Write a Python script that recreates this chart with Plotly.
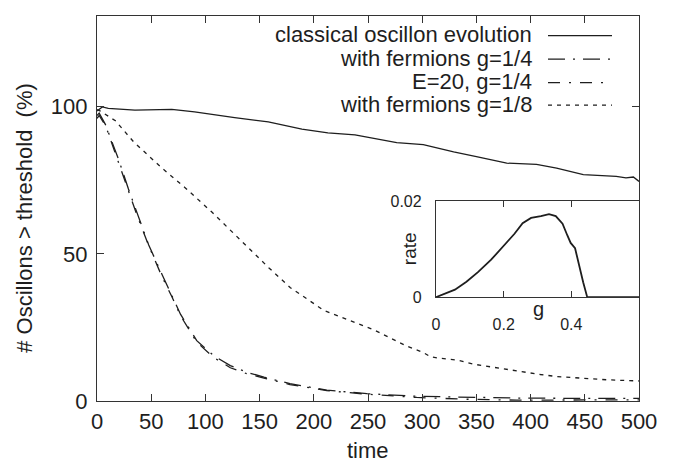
import plotly.graph_objects as go

# ---------------- data ----------------
legend_names = ["classical oscillon evolution", "with fermions g=1/4",
                "E=20, g=1/4", "with fermions g=1/8"]

t_classical = [0, 4.9, 10.4, 35, 69, 90, 127, 158, 189, 213, 238, 256.5, 276.5,
               301, 329, 350, 378, 405.5, 424, 448.6, 479, 488, 494.8, 500]
v_classical = [98.5, 99.9, 99.4, 98.8, 99.1, 98.2, 96.3, 94.8, 92.4, 91.1, 90.4, 89.1, 87.8,
               87.1, 84.6, 83.0, 80.8, 80.4, 79.1, 76.9, 76.3, 75.8, 76.1, 74.6]

t_g4 = [0, 2, 7.7, 20, 29, 37, 47.7, 60, 69, 77, 92, 108, 123, 138, 154, 169, 178,
        212, 249, 295, 341, 387, 440, 500]
v_g4 = [97.0, 97.8, 94.0, 82.0, 72.0, 63.6, 53.0, 43.0, 36.0, 29.5, 20.5, 15.3, 12.0, 9.8,
        8.1, 6.6, 5.9, 3.7, 2.5, 1.6, 1.2, 1.0, 0.9, 0.9]

t_e20 = [0, 2, 8, 20, 29, 37, 48, 60, 69, 77, 92, 108, 123, 138, 154, 169, 178,
         212, 249, 295, 341, 387, 440, 500]
v_e20 = [96.0, 97.0, 93.5, 81.0, 71.5, 63.0, 52.5, 42.2, 35.5, 29.0, 20.0, 14.7, 11.3, 9.3,
         7.8, 6.4, 5.6, 3.5, 2.3, 1.2, 0.6, 0.3, 0.3, 0.4]

t_g8 = [0, 3.1, 17, 33.9, 60, 81.5, 106.2, 133.9, 158.4, 178.4, 193.8, 209.2, 224.5,
        239.9, 255.3, 270.7, 286, 301.4, 307.6, 316.8, 332.2, 347.5, 362.9, 378.3,
        393.6, 409, 424.4, 439.8, 455.2, 470.6, 485.9, 500]
v_g8 = [99.0, 98.5, 95.2, 88.0, 79.1, 72.4, 64.1, 54.1, 45.3, 38.5, 34.7, 30.8, 28.6,
        26.4, 24.2, 21.4, 18.6, 16.4, 15.0, 14.5, 13.9, 12.5, 11.6, 10.8,
        9.8, 9.0, 8.3, 7.9, 7.4, 7.2, 7.0, 6.8]

g_inset = [0, 0.026, 0.056, 0.09, 0.124, 0.163, 0.202, 0.232, 0.256, 0.281, 0.31,
           0.334, 0.354, 0.374, 0.388, 0.398, 0.411, 0.422, 0.435, 0.447, 0.5, 0.55, 0.6]
rate_inset = [0, 0.00068, 0.00156, 0.0032, 0.0052, 0.0078, 0.0108, 0.0132, 0.0154,
              0.0165, 0.0169, 0.0173, 0.0169, 0.0153, 0.0129, 0.0113, 0.0102, 0.0068,
              0.0031, 0, 0, 0, 0]

x_ticks = [0, 50, 100, 150, 200, 250, 300, 350, 400, 450, 500]
y_ticks = [0, 50, 100]
inset_x_ticks = [0, 0.2, 0.4]
inset_x_text = ["0", "0.2", "0.4"]
inset_y_ticks = [0, 0.02]
inset_y_text = ["0", "0.02"]

# ---------------- styling ----------------
FONT = "Liberation Sans, Arial, Helvetica, sans-serif"
INK = "#1e1e1e"
dashes = [None, "17px,8px,2px,8px", "12px,9px,2px,9px", "4px,5px"]

fig = go.Figure()
series = [(t_classical, v_classical), (t_g4, v_g4), (t_e20, v_e20), (t_g8, v_g8)]
for (tx, vy), name, d in zip(series, legend_names, dashes):
    line = dict(color=INK, width=1.3)
    if d:
        line["dash"] = d
    fig.add_trace(go.Scatter(x=tx, y=vy, mode="lines", name=name, line=line,
                             showlegend=False, xaxis="x", yaxis="y"))

fig.add_trace(go.Scatter(x=g_inset, y=rate_inset, mode="lines", name="rate",
                         line=dict(color=INK, width=1.8), showlegend=False,
                         xaxis="x2", yaxis="y2"))

W, H = 683, 466
ml, mr, mt, mb = 97, 44, 8, 65
pw, ph = W - ml - mr, H - mt - mb


def px_to_paper_x(px):
    return (px - ml) / pw


def px_to_paper_y(py):
    return (H - mb - py) / ph


axis_common = dict(showline=True, linecolor="#333", linewidth=1.3, mirror="allticks",
                   ticks="inside", tickcolor="#333", tickwidth=1, showgrid=False,
                   zeroline=False)

fig.update_layout(
    width=W, height=H,
    margin=dict(l=ml, r=mr, t=mt, b=mb, pad=0),
    paper_bgcolor="white", plot_bgcolor="white",
    font=dict(family=FONT, color=INK),
    xaxis=dict(domain=[0, 1], range=[0, 500], tickvals=x_ticks, ticklen=7,
               tickfont=dict(size=22), anchor="y", ticklabelstandoff=0, **axis_common),
    yaxis=dict(domain=[0, 1], range=[0, 130.8], tickvals=y_ticks, ticklen=7,
               tickfont=dict(size=22), anchor="x", ticklabelstandoff=4, **axis_common),
    xaxis2=dict(domain=[px_to_paper_x(436), 1.0], range=[0, 0.6], tickvals=inset_x_ticks,
                ticktext=inset_x_text, ticklen=6, tickfont=dict(size=16), anchor="y2",
                ticklabelstandoff=12, **axis_common),
    yaxis2=dict(domain=[px_to_paper_y(295), px_to_paper_y(197)], range=[0, 0.02],
                tickvals=inset_y_ticks, ticktext=inset_y_text, ticklen=6,
                tickfont=dict(size=16), anchor="x2", ticklabelstandoff=10, **axis_common),
)

annotations = [
    dict(text="time", x=0.5, y=px_to_paper_y(452), xref="paper", yref="paper",
         showarrow=False, font=dict(size=22), xanchor="center", yanchor="middle"),
    dict(text="# Oscillons > threshold  (%)", x=px_to_paper_x(25), y=px_to_paper_y(214),
         xref="paper", yref="paper", showarrow=False, textangle=-90,
         font=dict(size=22), xanchor="center", yanchor="middle"),
    dict(text="g", x=px_to_paper_x(538), y=px_to_paper_y(307), xref="paper", yref="paper",
         showarrow=False, font=dict(size=20), xanchor="center", yanchor="middle"),
    dict(text="rate", x=px_to_paper_x(409), y=px_to_paper_y(246), xref="paper", yref="paper",
         showarrow=False, textangle=-90, font=dict(size=19), xanchor="center",
         yanchor="middle"),
]

# manual legend: right-aligned text with line sample on the right
row_y = [27, 51, 75, 98]
shapes = []
for name, d, ry in zip(legend_names, dashes, row_y):
    annotations.append(dict(text=name, x=px_to_paper_x(534), y=px_to_paper_y(ry),
                            xref="paper", yref="paper", showarrow=False,
                            font=dict(size=22), xanchor="right", yanchor="middle"))
    ln = dict(color=INK, width=1.3)
    if d:
        ln["dash"] = d
    shapes.append(dict(type="line", xref="paper", yref="paper",
                       x0=px_to_paper_x(548), x1=px_to_paper_x(612),
                       y0=px_to_paper_y(ry + 1), y1=px_to_paper_y(ry + 1), line=ln))

fig.update_layout(annotations=annotations, shapes=shapes)

fig.write_html("out.html", config={"displayModeBar": False},
               post_script="document.body.style.margin='0';document.body.style.overflow='hidden';")
